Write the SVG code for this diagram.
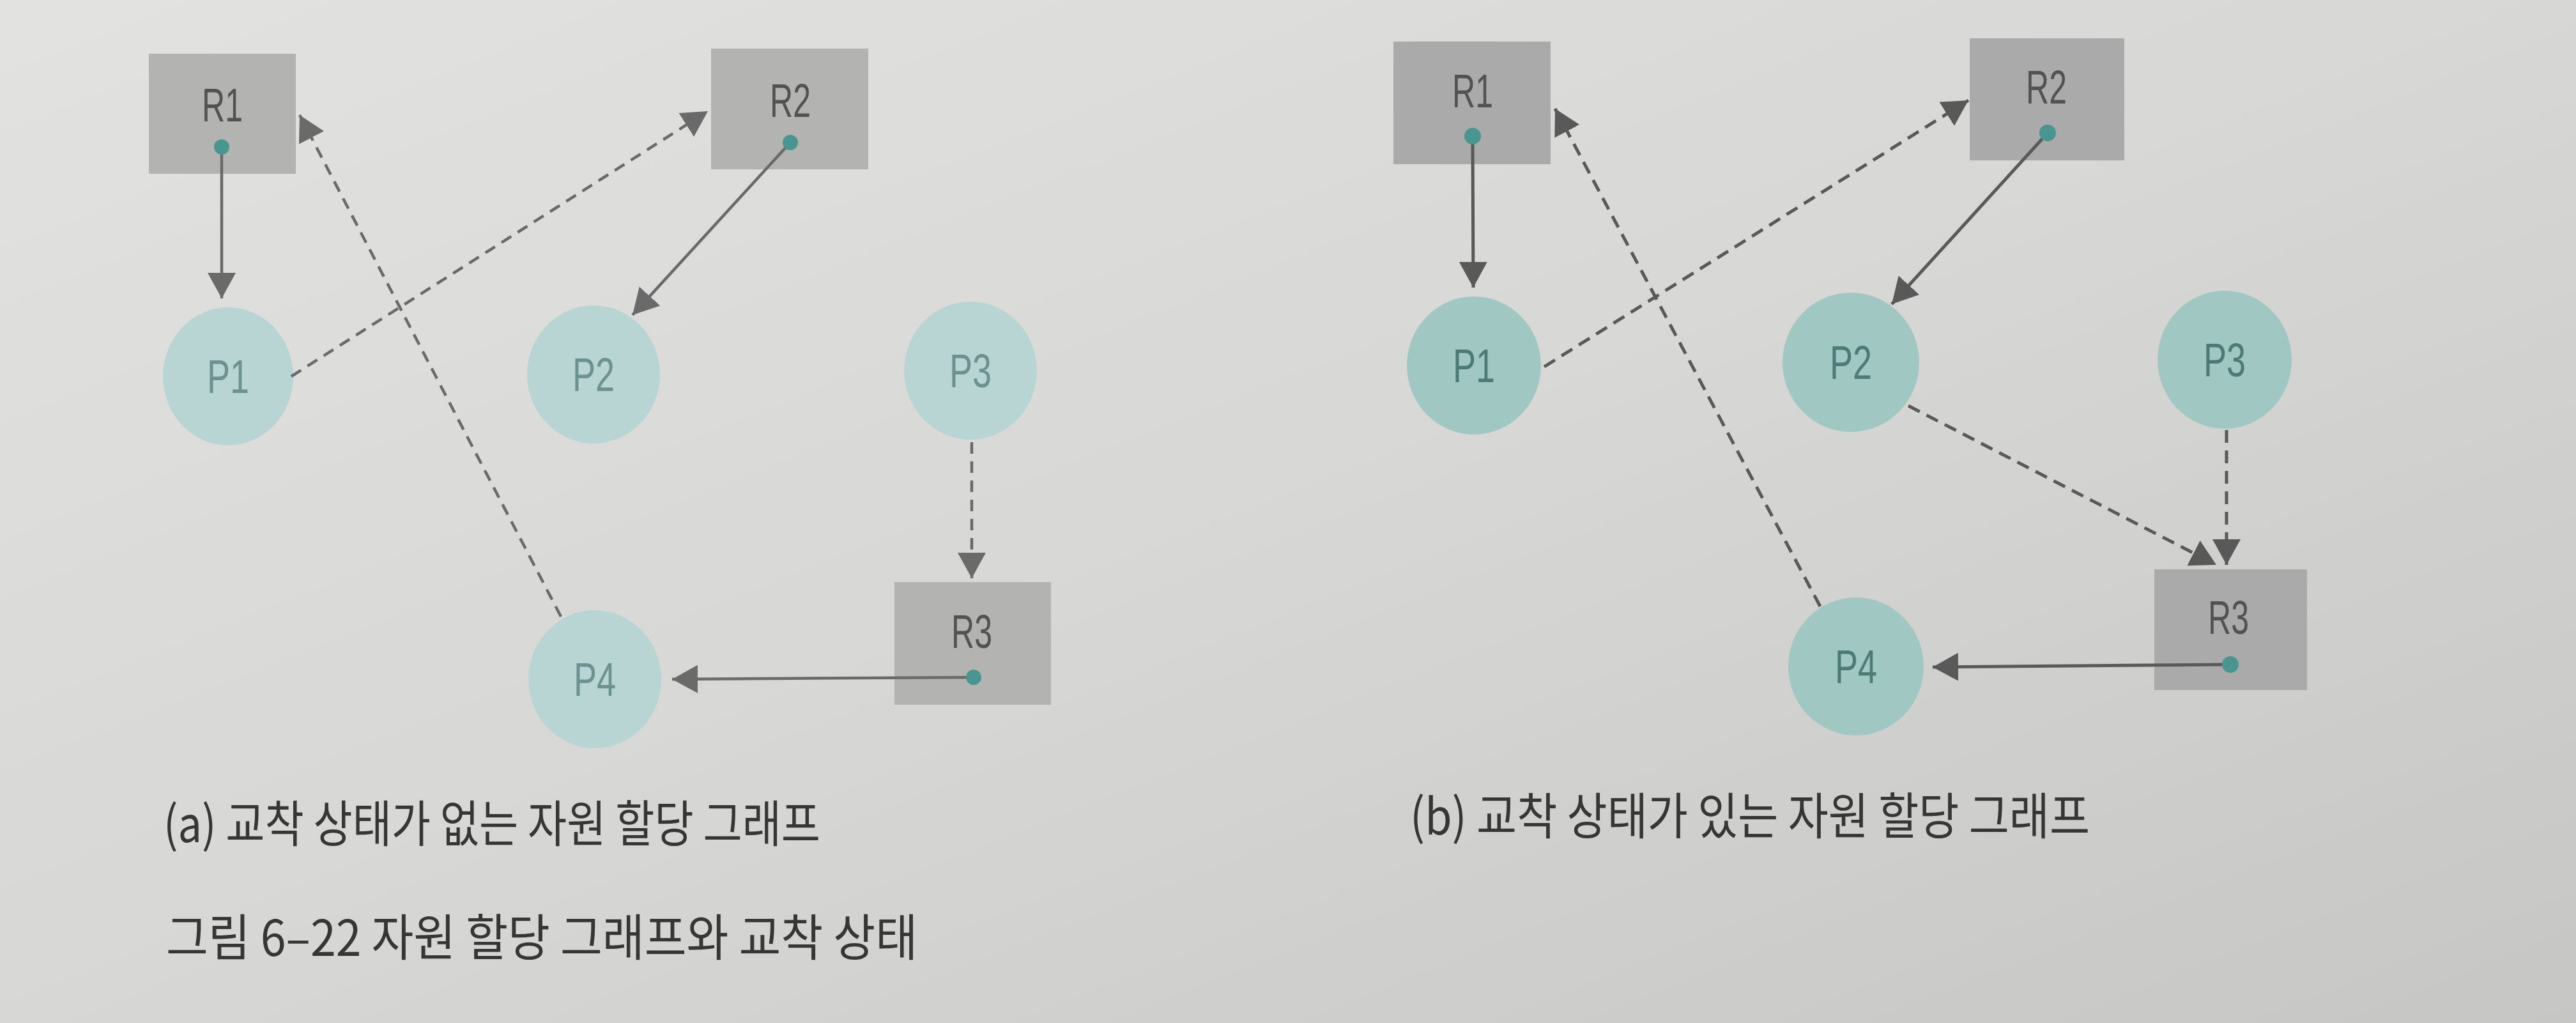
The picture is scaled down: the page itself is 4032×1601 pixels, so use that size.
<svg xmlns="http://www.w3.org/2000/svg" width="4032" height="1601" viewBox="0 0 4032 1601">
  <defs>
    <linearGradient id="bg" x1="0" y1="0" x2="1" y2="1">
      <stop offset="0" stop-color="#e2e2e1"/>
      <stop offset="0.5" stop-color="#d7d7d6"/>
      <stop offset="1" stop-color="#c6c6c4"/>
    </linearGradient>
    <marker id="ah" markerUnits="userSpaceOnUse" markerWidth="42" markerHeight="46" refX="40" refY="22" orient="auto" viewBox="0 0 42 46">
      <path d="M0,0 L40,22 L0,44 z" fill="#595959"/>
    </marker>
    <marker id="ahA" markerUnits="userSpaceOnUse" markerWidth="42" markerHeight="46" refX="40" refY="22" orient="auto" viewBox="0 0 42 46">
      <path d="M0,0 L40,22 L0,44 z" fill="#6a6a6a"/>
    </marker>
  </defs>
  <style>
    .res { fill: #aaaaaa; }
    .resA { fill: #b3b3b2; }
    .proc { fill: #a1c7c3; }
    .procA { fill: #b9d5d3; }
    .rlab { font-family: "Liberation Sans", Arial, sans-serif; font-size: 74px; fill: #525252; text-anchor: middle; }
    .plab { font-family: "Liberation Sans", Arial, sans-serif; font-size: 74px; fill: #4c7a77; text-anchor: middle; }
    .plabA { font-family: "Liberation Sans", Arial, sans-serif; font-size: 74px; fill: #6b9290; text-anchor: middle; }
    .dot { fill: #48968f; }
    .solid { stroke: #595959; stroke-width: 5; fill: none; marker-end: url(#ah); }
    .dash { stroke: #595959; stroke-width: 5; fill: none; stroke-dasharray: 20 12; marker-end: url(#ah); }
    .solidA { stroke: #6a6a6a; stroke-width: 4.5; fill: none; marker-end: url(#ahA); }
    .dashA { stroke: #6a6a6a; stroke-width: 4.5; fill: none; stroke-dasharray: 18 12; marker-end: url(#ahA); }
    .cap { font-family: "Noto Sans CJK KR", "Noto Sans", sans-serif; font-size: 78px; fill: #363636; }
  </style>
  <rect x="0" y="0" width="4032" height="1601" fill="url(#bg)"/>

  <!-- (a) nodes -->
  <g id="a-R1"><rect class="resA" x="233" y="84" width="230" height="188"/><text class="rlab" x="348" y="190" textLength="64" lengthAdjust="spacingAndGlyphs">R1</text></g>
  <g id="a-R2"><rect class="resA" x="1113" y="76" width="246" height="189"/><text class="rlab" x="1237" y="183" textLength="64" lengthAdjust="spacingAndGlyphs">R2</text></g>
  <g id="a-R3"><rect class="resA" x="1400" y="911" width="245" height="192"/><text class="rlab" x="1521" y="1014" textLength="64" lengthAdjust="spacingAndGlyphs">R3</text></g>
  <g id="a-P1"><ellipse class="procA" cx="357" cy="589" rx="102" ry="108"/><text class="plabA" x="357" y="615" textLength="66" lengthAdjust="spacingAndGlyphs">P1</text></g>
  <g id="a-P2"><ellipse class="procA" cx="929" cy="586" rx="104" ry="108"/><text class="plabA" x="929" y="612" textLength="66" lengthAdjust="spacingAndGlyphs">P2</text></g>
  <g id="a-P3"><ellipse class="procA" cx="1519" cy="580" rx="104" ry="108"/><text class="plabA" x="1519" y="606" textLength="66" lengthAdjust="spacingAndGlyphs">P3</text></g>
  <g id="a-P4"><ellipse class="procA" cx="931" cy="1063" rx="104" ry="108"/><text class="plabA" x="931" y="1089" textLength="66" lengthAdjust="spacingAndGlyphs">P4</text></g>

  <!-- (b) nodes -->
  <g id="b-R1"><rect class="res" x="2181" y="65" width="246" height="192"/><text class="rlab" x="2305" y="168" textLength="64" lengthAdjust="spacingAndGlyphs">R1</text></g>
  <g id="b-R2"><rect class="res" x="3083" y="60" width="242" height="191"/><text class="rlab" x="3203" y="162" textLength="64" lengthAdjust="spacingAndGlyphs">R2</text></g>
  <g id="b-R3"><rect class="res" x="3372" y="891" width="239" height="189"/><text class="rlab" x="3488" y="992" textLength="64" lengthAdjust="spacingAndGlyphs">R3</text></g>
  <g id="b-P1"><ellipse class="proc" cx="2307" cy="572" rx="105" ry="108"/><text class="plab" x="2307" y="598" textLength="66" lengthAdjust="spacingAndGlyphs">P1</text></g>
  <g id="b-P2"><ellipse class="proc" cx="2897" cy="567" rx="107" ry="109"/><text class="plab" x="2897" y="593" textLength="66" lengthAdjust="spacingAndGlyphs">P2</text></g>
  <g id="b-P3"><ellipse class="proc" cx="3482" cy="563" rx="105" ry="108"/><text class="plab" x="3482" y="589" textLength="66" lengthAdjust="spacingAndGlyphs">P3</text></g>
  <g id="b-P4"><ellipse class="proc" cx="2905" cy="1043" rx="106" ry="108"/><text class="plab" x="2905" y="1069" textLength="66" lengthAdjust="spacingAndGlyphs">P4</text></g>

  <!-- connectors -->
  <g id="connectors">
    <line class="solidA" x1="347" y1="230" x2="347" y2="467"/>
    <line class="dashA" x1="456" y1="589" x2="1108" y2="174"/>
    <line class="solidA" x1="1237" y1="223" x2="990" y2="493"/>
    <line class="dashA" x1="1521" y1="692" x2="1521" y2="905"/>
    <line class="solidA" x1="1524" y1="1060" x2="1052" y2="1063"/>
    <line class="dashA" x1="878" y1="965" x2="469" y2="180"/>

    <line class="solid" x1="2305" y1="213" x2="2306" y2="450"/>
    <line class="dash" x1="2417" y1="574" x2="3081" y2="157"/>
    <line class="solid" x1="3205" y1="208" x2="2961" y2="476"/>
    <line class="dash" x1="2987" y1="635" x2="3469" y2="884"/>
    <line class="dash" x1="3485" y1="673" x2="3485" y2="884"/>
    <line class="solid" x1="3491" y1="1040" x2="3025" y2="1044"/>
    <line class="dash" x1="2849" y1="949" x2="2434" y2="170"/>
  </g>

  <!-- allocation dots -->
  <g id="dots">
    <circle class="dot" cx="347" cy="230" r="12"/>
    <circle class="dot" cx="1237" cy="223" r="12"/>
    <circle class="dot" cx="1524" cy="1060" r="12"/>
    <circle class="dot" cx="2305" cy="213" r="13"/>
    <circle class="dot" cx="3205" cy="208" r="13"/>
    <circle class="dot" cx="3491" cy="1040" r="13"/>
  </g>

  <g id="captions">
    <text class="cap" x="256" y="1318" textLength="1028" lengthAdjust="spacingAndGlyphs">(a) 교착 상태가 없는 자원 할당 그래프</text>
    <text class="cap" x="2207" y="1306" textLength="1064" lengthAdjust="spacingAndGlyphs">(b) 교착 상태가 있는 자원 할당 그래프</text>
    <text class="cap" x="260" y="1496" textLength="1176" lengthAdjust="spacingAndGlyphs">그림 6–22  자원 할당 그래프와 교착 상태</text>
  </g>
</svg>
